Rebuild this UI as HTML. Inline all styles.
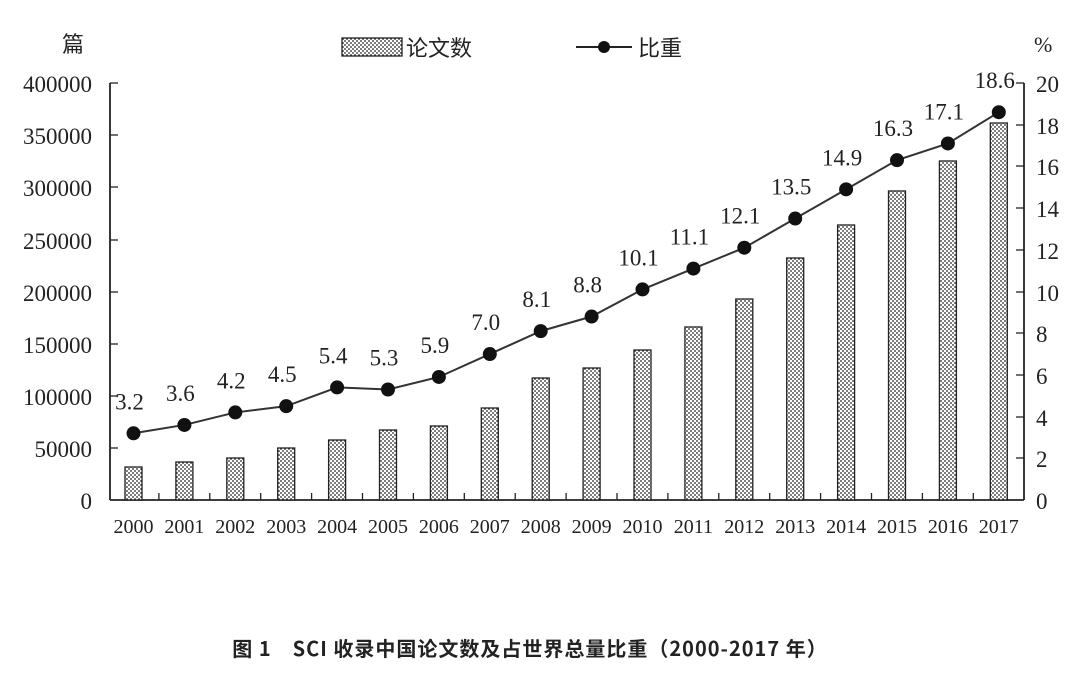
<!DOCTYPE html>
<html><head><meta charset="utf-8"><style>
body{margin:0;background:#fff;}
svg{display:block}
text{font-family:"Liberation Serif","Noto Serif CJK SC",serif;fill:#222}
</style></head><body>
<svg width="1076" height="678" viewBox="0 0 1076 678" xmlns="http://www.w3.org/2000/svg">
<defs>
<pattern id="dots" width="4" height="4" patternUnits="userSpaceOnUse">
<rect width="4" height="4" fill="#fff"/>
<circle cx="1" cy="1" r="0.9" fill="#222"/>
<circle cx="3" cy="3" r="0.9" fill="#222"/>
</pattern>
</defs>
<g stroke="#222" stroke-width="1.8" fill="none">
<line x1="110" y1="83" x2="110" y2="500"/>
<line x1="1024" y1="83" x2="1024" y2="500"/>
<line x1="110" y1="500" x2="1024" y2="500"/>
</g>
<g stroke="#222" stroke-width="1.3">
<line x1="110" y1="448" x2="118" y2="448"/><line x1="110" y1="396" x2="118" y2="396"/>
<line x1="110" y1="344" x2="118" y2="344"/><line x1="110" y1="292" x2="118" y2="292"/>
<line x1="110" y1="240" x2="118" y2="240"/><line x1="110" y1="187" x2="118" y2="187"/>
<line x1="110" y1="135" x2="118" y2="135"/><line x1="110" y1="83" x2="118" y2="83"/>
<line x1="1016" y1="458" x2="1024" y2="458"/><line x1="1016" y1="417" x2="1024" y2="417"/>
<line x1="1016" y1="375" x2="1024" y2="375"/><line x1="1016" y1="333" x2="1024" y2="333"/>
<line x1="1016" y1="292" x2="1024" y2="292"/><line x1="1016" y1="250" x2="1024" y2="250"/>
<line x1="1016" y1="208" x2="1024" y2="208"/><line x1="1016" y1="166" x2="1024" y2="166"/>
<line x1="1016" y1="125" x2="1024" y2="125"/><line x1="1016" y1="83" x2="1024" y2="83"/>
</g>
<g stroke="#222" stroke-width="1.3" id="xt"></g>
<g font-size="23" text-anchor="end">
<text x="92" y="509">0</text><text x="92" y="457">50000</text><text x="92" y="405">100000</text>
<text x="92" y="353">150000</text><text x="92" y="301">200000</text><text x="92" y="249">250000</text>
<text x="92" y="196">300000</text><text x="92" y="144">350000</text><text x="92" y="92">400000</text>
</g>
<g font-size="23" text-anchor="start">
<text x="1036" y="509">0</text><text x="1036" y="467">2</text><text x="1036" y="426">4</text>
<text x="1036" y="384">6</text><text x="1036" y="342">8</text><text x="1036" y="301">10</text>
<text x="1036" y="259">12</text><text x="1036" y="217">14</text><text x="1036" y="175">16</text>
<text x="1036" y="134">18</text><text x="1036" y="92">20</text>
<text x="1034" y="52" font-size="22">%</text>
</g>
<text x="62" y="52" font-size="22" style="font-family:'Noto Sans CJK SC',sans-serif">篇</text>
<rect x="342" y="38" width="60" height="18" fill="url(#dots)" stroke="#222" stroke-width="1.3"/>
<text x="406" y="56" font-size="22" style="font-family:'Noto Sans CJK SC',sans-serif">论文数</text>
<line x1="576" y1="47" x2="632" y2="47" stroke="#222" stroke-width="2"/>
<circle cx="604" cy="47" r="6" fill="#111"/>
<text x="638" y="56" font-size="22" style="font-family:'Noto Sans CJK SC',sans-serif">比重</text>
<g id="bars" fill="url(#dots)" stroke="#222" stroke-width="1.3"></g>
<polyline id="ln" fill="none" stroke="#333" stroke-width="2"/>
<g id="pts" fill="#111"></g>
<g id="lbl" font-size="23" text-anchor="middle"></g>
<g id="xl" font-size="20" text-anchor="middle"></g>
<text x="530" y="656" text-anchor="middle" font-size="20" font-weight="bold" style="font-family:'Noto Sans CJK SC',sans-serif;letter-spacing:1px">图 1　SCI 收录中国论文数及占世界总量比重（2000-2017 年）</text>
</svg>
<script>
var ns="http://www.w3.org/2000/svg";
function el(t,a,p,txt){var e=document.createElementNS(ns,t);for(var k in a)e.setAttribute(k,a[k]);if(txt)e.textContent=txt;document.getElementById(p).appendChild(e);}
var tops=[467,462,458,448,440,430,426,408,378,368,350,327,299,258,225,191,161,123];
var v=[3.2,3.6,4.2,4.5,5.4,5.3,5.9,7.0,8.1,8.8,10.1,11.1,12.1,13.5,14.9,16.3,17.1,18.6];
var pts=[];
for(var i=0;i<18;i++){
 var cx=133.5+i*50.9;
 el("rect",{x:cx-8.5,y:tops[i],width:17,height:500-tops[i]},"bars");
 var y=500-v[i]*20.85;pts.push(cx+","+y);
 el("circle",{cx:cx,cy:y,r:7},"pts");
 el("text",{x:cx-4,y:y-24},"lbl",v[i].toFixed(1));
 el("text",{x:cx,y:533},"xl",String(2000+i));
 if(i>0)el("line",{x1:cx-25.5,y1:500,x2:cx-25.5,y2:493},"xt");
}
document.getElementById("ln").setAttribute("points",pts.join(" "));
</script>
</body></html>
